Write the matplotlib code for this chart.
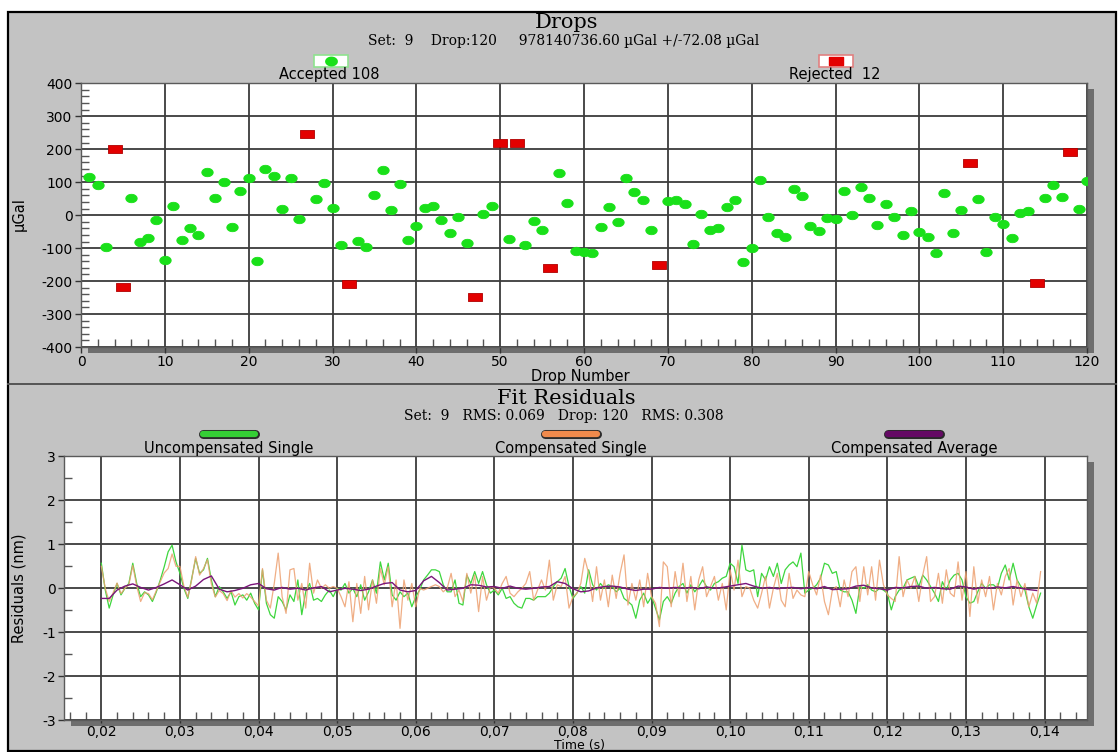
import numpy as np
import matplotlib
matplotlib.use("Agg")
import matplotlib.pyplot as plt
from matplotlib.path import Path
from matplotlib.patches import Rectangle
from matplotlib.lines import Line2D
from matplotlib.ticker import MultipleLocator, FuncFormatter
import matplotlib.patheffects as pe

# ---------------- data: Drops panel ----------------
acc_drop = [1, 2, 3, 6, 7, 8, 9, 10, 11, 12, 13, 14, 15, 16, 17, 18, 19, 20,
            21, 22, 23, 24, 25, 26, 28, 29, 30, 31, 33, 34, 35, 36, 37, 38, 39,
            40, 41, 42, 43, 44, 45, 46, 48, 49, 51, 53, 54, 55, 57, 58, 59, 60,
            61, 62, 63, 64, 65, 66, 67, 68, 70, 71, 72, 73, 74, 75, 76, 77, 78,
            79, 80, 81, 82, 83, 84, 85, 86, 87, 88, 89, 90, 91, 92, 93, 94, 95,
            96, 97, 98, 99, 100, 101, 102, 103, 104, 105, 107, 108, 109, 110,
            111, 112, 113, 115, 116, 117, 119, 120]
acc_ugal = [117, 92, -98, 51, -80, -70, -15, -135, 28, -75, -40, -60, 132, 52,
            100, -37, 72, 112, -138, 139, 120, 18, 112, -13, 48, 97, 21, -91,
            -78, -98, 61, 137, 16, 96, -74, -32, 23, 29, -15, -55, -7, -83, 5,
            27, -72, -91, -17, -46, 129, 36, -110, -112, -116, -36, 25, -22,
            114, 71, 45, -44, 43, 47, 33, -88, 5, -46, -38, 26, 45, -141, -101,
            108, -5, -53, -66, 79, 57, -34, -48, -10, -13, 72, 0, 86, 51, -31,
            34, -7, -60, 13, -50, -65, -115, 68, -53, 15, 48, -113, -5, -27,
            -68, 6, 13, 51, 91, 55, 20, 104]
rej_drop = [4, 5, 27, 32, 47, 50, 52, 56, 69, 106, 114, 118]
rej_ugal = [200, -219, 245, -209, -248, 220, 220, -161, -150, 157, -206, 192]

drops_x_ticks = [0, 10, 20, 30, 40, 50, 60, 70, 80, 90, 100, 110, 120]
drops_y_ticks = [-400, -300, -200, -100, 0, 100, 200, 300, 400]

# ---------------- data: Fit residuals panel ----------------
T0_SINGLE, DT_SINGLE = 0.0200, 0.0005     # sample grid of single-drop residuals
T0_AVG, DT_AVG = 0.0200, 0.0010           # sample grid of averaged residuals

uncomp_single = [
    0.57, -0.04, -0.45, -0.15, 0.11, -0.15, 0.0, 0.11, 0.57, 0.11,
    -0.19, -0.08, -0.15, -0.3, -0.08, 0.19, 0.49, 0.83, 0.98, 0.6,
    0.34, 0.0, -0.23, 0.23, 0.68, 0.34, 0.42, 0.68, 0.19, -0.19,
    0.04, -0.08, -0.23, -0.08, -0.38, -0.19, -0.15, -0.27, -0.11, -0.34,
    -0.49, 0.42, -0.34, -0.6, -0.68, -0.19, -0.3, -0.49, -0.15, -0.3,
    0.19, -0.6, -0.08, 0.11, -0.27, -0.23, -0.3, -0.15, -0.04, -0.19,
    0.0, -0.04, 0.11, -0.11, 0.0, -0.19, 0.08, -0.27, -0.08, 0.19,
    -0.11, 0.6, 0.19, 0.57, -0.15, -0.27, -0.08, -0.19, -0.11, -0.42,
    -0.19, -0.04, 0.19, 0.3, 0.42, 0.42, 0.38, 0.08, -0.08, -0.08,
    0.19, -0.34, -0.38, 0.3, 0.11, 0.38, 0.11, 0.38, 0.08, -0.11,
    -0.04, -0.15, 0.0, -0.23, -0.19, -0.34, -0.42, -0.45, -0.23, -0.23,
    -0.27, -0.19, -0.19, -0.19, -0.11, 0.04, 0.15, 0.23, 0.45, 0.04,
    -0.23, -0.11, 0.04, -0.11, 0.42, 0.08, -0.04, 0.11, 0.0, 0.08,
    0.04, -0.08, 0.0, -0.23, -0.3, -0.38, -0.68, -0.27, -0.11, -0.34,
    -0.19, -0.45, -0.72, -0.3, -0.19, -0.34, -0.11, 0.04, 0.11, -0.11,
    0.08, -0.08, 0.04, 0.19, 0.04, -0.04, 0.11, 0.15, 0.23, 0.27,
    0.57, 0.49, 0.11, 0.98, 0.42, 0.38, 0.42, -0.19, 0.34, 0.19,
    0.49, 0.27, 0.57, 0.11, 0.42, 0.53, 0.6, 0.49, 0.8, -0.11,
    -0.04, 0.0, 0.08, 0.23, 0.57, 0.53, 0.34, 0.38, -0.04, -0.08,
    -0.08, -0.27, -0.57, 0.04, 0.0, 0.08, -0.04, -0.08, 0.0, -0.04,
    -0.11, -0.49, -0.19, -0.04, 0.0, 0.19, 0.23, 0.27, 0.04, 0.3,
    0.19, 0.04, -0.11, -0.3, 0.15, -0.04, 0.19, 0.3, 0.34, 0.19,
    -0.19, -0.34, -0.3, -0.08, 0.11, 0.0, 0.08, 0.08, 0.0, 0.34,
    0.53, 0.19, 0.57, 0.19, 0.04, -0.04, -0.42, -0.68, -0.38, -0.11]

comp_single = [
    0.5, 0.0, -0.3, -0.1, 0.12, -0.12, 0.0, 0.08, 0.52, 0.05,
    -0.3, -0.1, -0.12, -0.26, -0.05, 0.15, 0.35, 0.45, 0.78, 0.5,
    0.5, 0.05, -0.2, 0.2, 0.72, 0.3, 0.45, 0.65, 0.1, -0.2,
    -0.05, -0.12, -0.28, -0.05, -0.2, -0.12, -0.22, -0.12, -0.2, -0.3,
    -0.4, 0.45, -0.27, -0.45, 0.11, 0.8, -0.19, -0.57, 0.42, 0.45,
    -0.27, 0.11, -0.45, 0.57, -0.11, 0.19, 0.0, 0.08, 0.0, 0.04,
    0.0, -0.19, -0.42, 0.15, -0.76, 0.11, -0.57, 0.27, -0.49, 0.19,
    -0.34, 0.45, 0.08, 0.49, -0.42, 0.19, -0.91, 0.19, -0.27, 0.11,
    -0.42, 0.0, -0.04, 0.0, 0.04, 0.08, 0.04, -0.08, 0.0, 0.34,
    -0.19, -0.04, -0.3, 0.34, -0.11, 0.3, -0.53, 0.27, -0.27, 0.04,
    0.0, -0.11, 0.11, 0.27, -0.11, -0.19, -0.08, 0.0, 0.11, 0.38,
    -0.27, -0.04, 0.19, -0.04, 0.64, -0.27, 0.08, 0.04, 0.27, -0.45,
    -0.19, -0.11, 0.11, 0.68, 0.34, -0.3, 0.49, -0.27, 0.19, -0.42,
    0.3, -0.23, 0.34, 0.76, -0.38, 0.11, -0.27, 0.19, -0.42, 0.34,
    -0.19, -0.34, -0.87, 0.6, 0.49, -0.42, 0.38, -0.19, 0.57, -0.3,
    0.27, -0.49, 0.19, 0.49, -0.19, 0.04, 0.27, -0.27, 0.11, -0.49,
    0.42, -0.04, 0.64, -0.19, 0.04, 0.0, -0.27, -0.45, -0.11, 0.27,
    -0.45, 0.0, 0.34, -0.27, -0.42, 0.34, -0.23, -0.04, -0.15, -0.19,
    0.38, 0.08, -0.15, 0.3, -0.3, -0.6, -0.04, 0.04, -0.42, 0.19,
    -0.19, 0.38, 0.49, -0.3, 0.49, -0.15, 0.49, -0.27, 0.64, 0.08,
    -0.15, -0.23, -0.3, 0.72, -0.19, 0.19, 0.0, 0.27, -0.3, 0.3,
    0.72, -0.3, -0.19, 0.34, -0.34, 0.42, -0.11, -0.19, 0.6, -0.27,
    0.38, -0.64, 0.49, -0.34, 0.19, -0.19, 0.27, -0.49, 0.11, -0.15,
    0.27, 0.45, -0.38, 0.19, -0.19, 0.11, -0.42, -0.11, -0.34, 0.38]

comp_average = [
    -0.23, -0.23, -0.04, 0.05, 0.1, 0.02, -0.04, 0.02, 0.1, 0.19,
    0.08, -0.04, 0.05, 0.2, 0.28, -0.02, -0.08, -0.05, 0.0, 0.08,
    0.11, -0.01, -0.04, 0.02, -0.02, 0.0, -0.04, 0.01, 0.04, -0.08,
    -0.04, 0.0, -0.02, -0.05, -0.02, 0.05, 0.11, 0.13, -0.04, -0.08,
    -0.05, 0.17, 0.27, 0.13, -0.04, -0.02, 0.0, 0.08, 0.07, 0.03,
    0.04, 0.0, 0.05, 0.0, -0.02, 0.0, 0.03, 0.04, 0.15, 0.11,
    -0.01, -0.08, -0.06, 0.01, 0.04, 0.05, 0.03, -0.02, -0.05, -0.02,
    -0.02, 0.02, 0.0, 0.02, 0.0, 0.02, -0.01, 0.03, 0.0, 0.02,
    0.05, 0.08, 0.11, 0.05, 0.0, 0.02, -0.01, 0.01, 0.02, -0.01,
    0.02, -0.01, 0.04, -0.03, -0.02, -0.01, 0.05, 0.07, 0.01, -0.01,
    -0.04, 0.02, 0.01, 0.04, 0.05, 0.0, 0.02, -0.01, -0.02, 0.05,
    0.03, -0.02, 0.02, 0.0, 0.03, 0.01, 0.04, 0.0, -0.03, -0.05]

time_ticks = [0.02, 0.03, 0.04, 0.05, 0.06, 0.07, 0.08, 0.09, 0.10, 0.11,
              0.12, 0.13, 0.14]
resid_y_ticks = [-3, -2, -1, 0, 1, 2, 3]

# ---------------- figure set-up ----------------
plt.rcParams["font.family"] = ["DejaVu Sans"]
plt.rcParams["axes.unicode_minus"] = False

W, H = 1120, 752
fig = plt.figure(figsize=(W / 100, H / 100), dpi=100)
fig.patch.set_facecolor("white")


def fx(x):
    return x / W


def fy(y):
    return 1 - y / H


PANEL = "#c3c3c3"
GRID = "#3c3c3c"
GREEN = "#19e019"
RED = "#e30000"

# grey panels with black frame and divider
fig.add_artist(Rectangle((fx(8), fy(751)), fx(1116) - fx(8), fy(12) - fy(751),
                         transform=fig.transFigure, facecolor=PANEL,
                         edgecolor="black", lw=1.6, zorder=-3))
fig.add_artist(Line2D([fx(8), fx(1116)], [fy(384), fy(384)],
                      transform=fig.transFigure, color="#555555", lw=1.4,
                      zorder=-2))

top_box = (81, 83.3, 1087, 347)     # left, top, right, bottom (pixels)
bot_box = (64, 456.3, 1087, 720.3)


def add_axes(box):
    l, t, r, b = box
    # drop shadow
    fig.add_artist(Rectangle((fx(l + 7), fy(b + 6)), fx(r) - fx(l),
                             fy(t) - fy(b), transform=fig.transFigure,
                             facecolor="#6e6e6e", edgecolor="none",
                             zorder=-1))
    ax = fig.add_axes([fx(l), fy(b), fx(r) - fx(l), fy(t) - fy(b)])
    ax.set_facecolor("white")
    for s in ax.spines.values():
        s.set_color("#5a5a5a")
        s.set_linewidth(1.0)
    ax.grid(which="major", color=GRID, lw=1.3)
    ax.set_axisbelow(True)
    ax.tick_params(which="major", direction="out", length=4, width=1,
                   color="#333333", labelsize=10, pad=2)
    ax.tick_params(which="minor", direction="in", length=6, width=1,
                   color="#555555", top=False, right=False)
    return ax


# ---------------- top: Drops ----------------
ax1 = add_axes(top_box)
ax1.set_xlim(drops_x_ticks[0], drops_x_ticks[-1])
ax1.set_ylim(drops_y_ticks[0], drops_y_ticks[-1])
ax1.set_xticks(drops_x_ticks)
ax1.set_yticks(drops_y_ticks)
ax1.xaxis.set_minor_locator(MultipleLocator(2))
ax1.yaxis.set_minor_locator(MultipleLocator(20))

t_ = np.linspace(0, 2 * np.pi, 40)
ellipse = Path(np.column_stack([1.35 * np.cos(t_), np.sin(t_)]))
rect = Path([(-1, -0.52), (1, -0.52), (1, 0.52), (-1, 0.52), (-1, -0.52)],
            closed=True)

ax1.plot(acc_drop, acc_ugal, linestyle="none", marker=ellipse, ms=8.2,
         mfc=GREEN, mec=GREEN, mew=0.6, zorder=3)
ax1.plot(rej_drop, rej_ugal, linestyle="none", marker=rect, ms=10.5,
         mfc=RED, mec="#b00000", mew=0.6, zorder=3)

fig.text(fx(567), fy(22), "Drops", family="DejaVu Serif", fontsize=15,
         ha="center", va="center")
fig.text(fx(564), fy(41),
         "Set:  9    Drop:120     978140736.60 \u00b5Gal +/-72.08 \u00b5Gal",
         family="DejaVu Serif", fontsize=10, ha="center", va="center")
fig.text(fx(329), fy(75), "Accepted 108", fontsize=10.5, ha="center",
         va="center")
fig.text(fx(835), fy(75), "Rejected  12", fontsize=10.5, ha="center",
         va="center")
for cx, ec, mk, col, ms in [(331, "#8fe38f", ellipse, GREEN, 8.2),
                            (836, "#e08080", rect, RED, 10.5)]:
    fig.add_artist(Rectangle((fx(cx - 17), fy(67)), fx(34), fy(55) - fy(67),
                             transform=fig.transFigure, facecolor="white",
                             edgecolor=ec, lw=1.2))
    fig.add_artist(Line2D([fx(cx)], [fy(61)], transform=fig.transFigure,
                          marker=mk, ms=ms, mfc=col, mec=col,
                          linestyle="none"))
fig.text(fx(580), fy(376), "Drop Number", fontsize=10.5, ha="center",
         va="center")
fig.text(fx(19), fy(214), "\u00b5Gal", fontsize=10.5, rotation=90,
         ha="center", va="center")

# ---------------- bottom: Fit residuals ----------------
ax2 = add_axes(bot_box)
ax2.set_xlim(0.01525, 0.1454)
ax2.set_ylim(resid_y_ticks[0], resid_y_ticks[-1])
ax2.set_xticks(time_ticks)
ax2.set_yticks(resid_y_ticks)
ax2.xaxis.set_minor_locator(MultipleLocator(0.002))
ax2.yaxis.set_minor_locator(MultipleLocator(0.5))
ax2.xaxis.set_major_formatter(
    FuncFormatter(lambda v, p: f"{v:.2f}".replace(".", ",")))
ax2.tick_params(axis="x", which="major", length=2.5, pad=1)

t_single = T0_SINGLE + DT_SINGLE * np.arange(len(uncomp_single))
t_avg = T0_AVG + DT_AVG * np.arange(len(comp_average))

ax2.plot(t_single, uncomp_single, color="#3ed63e", lw=0.9, zorder=3)
ax2.plot(t_single, comp_single, color="#eda070", lw=0.9, alpha=0.85, zorder=4)
ax2.plot(t_avg, comp_average, color="#7a157a", lw=1.0, zorder=5)

fig.text(fx(566), fy(399), "Fit Residuals", family="DejaVu Serif",
         fontsize=15, ha="center", va="center")
fig.text(fx(564), fy(416),
         "Set:  9   RMS: 0.069   Drop: 120   RMS: 0.308",
         family="DejaVu Serif", fontsize=10, ha="center", va="center")

legend_items = [(229, "#35cf35", "Uncompensated Single"),
                (571, "#f08a4c", "Compensated Single"),
                (914, "#650a65", "Compensated Average")]
for cx, col, lab in legend_items:
    fig.add_artist(Line2D([fx(cx - 26), fx(cx + 26)], [fy(434), fy(434)],
                          transform=fig.transFigure, color=col, lw=4.5,
                          solid_capstyle="round",
                          path_effects=[pe.Stroke(linewidth=6.5,
                                                  foreground="#2a2a2a"),
                                        pe.Normal()]))
    fig.text(fx(cx), fy(449), lab, fontsize=10.5, ha="center", va="center")

fig.text(fx(580), fy(745.5), "Time (s)", fontsize=9, ha="center",
         va="center")
fig.text(fx(19), fy(588), "Residuals (nm)", fontsize=10.5, rotation=90,
         ha="center", va="center")

fig.savefig("out.png", dpi=100, facecolor=fig.get_facecolor())
